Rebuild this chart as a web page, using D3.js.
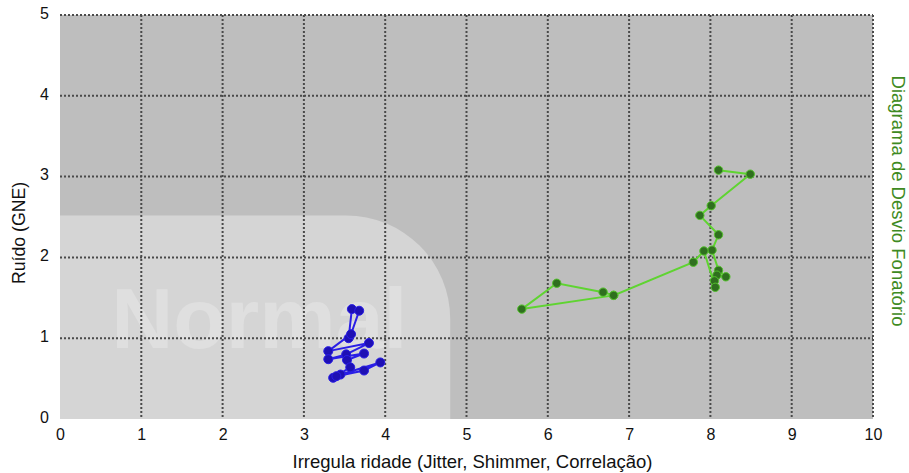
<!DOCTYPE html>
<html>
<head>
<meta charset="utf-8">
<script src="https://cdn.jsdelivr.net/npm/d3@7"></script>
<style>
  body { margin: 0; background: #fff; }
  text { font-family: "Liberation Sans", Arial, sans-serif; }
</style>
</head>
<body>
<div id="chart"></div>
<script>
// axis ticks
var xTicks = [0, 1, 2, 3, 4, 5, 6, 7, 8, 9, 10];
var yTicks = [0, 1, 2, 3, 4, 5];

// normal region (irregularity, noise)
var normalX = [0, 4.8];
var normalY = [0, 2.52];

// blue series (normal voice)
var blueX = [3.55, 3.59, 3.68, 3.58, 3.30, 3.80, 3.52, 3.30, 3.74, 3.53, 3.57, 3.36, 3.45, 3.94, 3.74, 3.40];
var blueY = [1.00, 1.36, 1.34, 1.05, 0.84, 0.94, 0.80, 0.74, 0.81, 0.73, 0.64, 0.51, 0.55, 0.70, 0.60, 0.53];

// green series (deviation)
var greenX = [8.10, 8.49, 8.01, 7.87, 8.10, 8.02, 8.10, 8.19, 8.08, 8.05, 8.06, 7.92, 7.79, 6.81, 6.68, 6.11, 5.68, 6.81];
var greenY = [3.08, 3.03, 2.64, 2.52, 2.28, 2.09, 1.84, 1.76, 1.78, 1.71, 1.63, 2.08, 1.94, 1.53, 1.57, 1.68, 1.36, 1.53];

var width = 909, height = 473;
var margin = {left: 60, right: 36, top: 15, bottom: 54};

var svg = d3.select("#chart").append("svg")
    .attr("width", width)
    .attr("height", height);

var x = d3.scaleLinear().domain([0, 10]).range([margin.left, width - margin.right]);
var y = d3.scaleLinear().domain([0, 5]).range([height - margin.bottom, margin.top]);

// plot background
svg.append("rect")
    .attr("x", x(0)).attr("y", y(5))
    .attr("width", x(10) - x(0)).attr("height", y(0) - y(5))
    .attr("fill", "#bebebe");

// normal region with rounded top-right corner
var nx0 = x(normalX[0]), nx1 = x(normalX[1]), ny0 = y(normalY[0]), ny1 = y(normalY[1]);
var r = 104;
svg.append("path")
    .attr("d", "M" + nx0 + "," + ny0 + "V" + ny1 + "H" + (nx1 - r) +
        "A" + r + "," + r + " 0 0 1 " + nx1 + "," + (ny1 + r) + "V" + ny0 + "Z")
    .attr("fill", "#d5d5d5");

svg.append("text")
    .attr("x", x(0.63)).attr("y", y(0.88))
    .attr("font-size", 86)
    .attr("font-weight", "bold")
    .attr("fill", "#dfdfdf")
    .text("Normal");

// dotted grid
var grid = svg.append("g")
    .attr("stroke", "#4a4a4a")
    .attr("stroke-width", 2)
    .attr("stroke-dasharray", "2,2");

grid.selectAll(".vx")
    .data(xTicks.filter(function (d) { return d > 0; }))
    .enter().append("line")
    .attr("x1", function (d) { return x(d); })
    .attr("x2", function (d) { return x(d); })
    .attr("y1", y(5)).attr("y2", y(0));

grid.selectAll(".hy")
    .data(yTicks.filter(function (d) { return d > 0; }))
    .enter().append("line")
    .attr("y1", function (d) { return y(d); })
    .attr("y2", function (d) { return y(d); })
    .attr("x1", x(0)).attr("x2", x(10));

// axes (labels only)
var xAxis = svg.append("g")
    .attr("transform", "translate(0," + (y(0) + 4) + ")")
    .call(d3.axisBottom(x).tickValues(xTicks).tickSize(0).tickFormat(d3.format("d")));
var yAxis = svg.append("g")
    .attr("transform", "translate(" + (x(0) - 8) + ",0)")
    .call(d3.axisLeft(y).tickValues(yTicks).tickSize(0).tickFormat(d3.format("d")));
[xAxis, yAxis].forEach(function (a) {
    a.select(".domain").remove();
    a.selectAll("text")
        .attr("font-size", 16)
        .attr("font-family", "'Liberation Sans', Arial, sans-serif")
        .attr("fill", "#111");
});
xAxis.selectAll("text").attr("dy", "0.85em");
yAxis.selectAll("text").attr("dy", "0.2em");

// series
function drawSeries(xs, ys, lineColor, dotColor, strokeColor, rad) {
    var pts = xs.map(function (d, i) { return [d, ys[i]]; });
    var line = d3.line()
        .x(function (d) { return x(d[0]); })
        .y(function (d) { return y(d[1]); });
    svg.append("path")
        .datum(pts)
        .attr("d", line)
        .attr("fill", "none")
        .attr("stroke", lineColor)
        .attr("stroke-width", 2);
    svg.append("g").selectAll("circle")
        .data(pts)
        .enter().append("circle")
        .attr("cx", function (d) { return x(d[0]); })
        .attr("cy", function (d) { return y(d[1]); })
        .attr("r", rad)
        .attr("fill", dotColor)
        .attr("stroke", strokeColor)
        .attr("stroke-width", 1);
}

drawSeries(blueX, blueY, "#2a1ee6", "#1e10b4", "#2a1ee6", 4.5);
drawSeries(greenX, greenY, "#5fd431", "#2f6f1f", "#54c22c", 4.2);

// titles
svg.append("text")
    .attr("x", (x(0) + x(10)) / 2 + 6).attr("y", 468)
    .attr("text-anchor", "middle")
    .attr("font-size", 18.5)
    .attr("fill", "#111")
    .text("Irregula ridade (Jitter, Shimmer, Correlação)");

svg.append("text")
    .attr("transform", "translate(25,233) rotate(-90)")
    .attr("text-anchor", "middle")
    .attr("font-size", 17.7)
    .attr("fill", "#111")
    .text("Ruído (GNE)");

svg.append("text")
    .attr("transform", "translate(892,201) rotate(90)")
    .attr("text-anchor", "middle")
    .attr("font-size", 18.5)
    .attr("fill", "#3e8a22")
    .text("Diagrama de Desvio Fonatório");
</script>
</body>
</html>
